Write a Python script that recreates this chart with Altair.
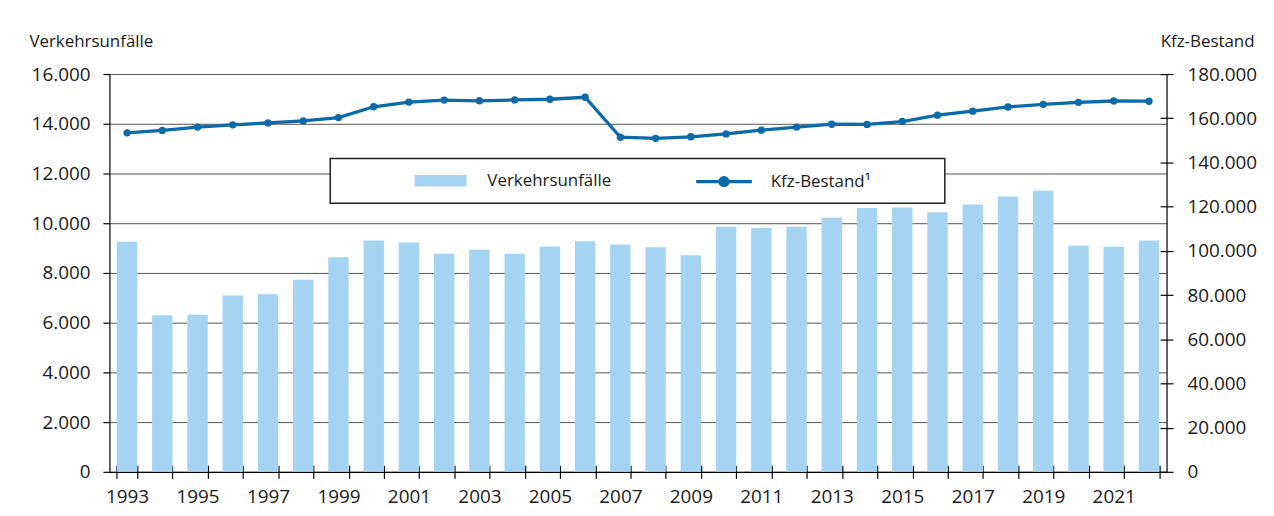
import altair as alt
import pandas as pd

# ---- data ---------------------------------------------------------------
jahre = list(range(1993, 2023))
verkehrsunfaelle = [9250, 6300, 6320, 7090, 7140, 7730, 8630, 9300, 9220, 8770,
                    8930, 8770, 9060, 9270, 9140, 9030, 8710, 9860, 9810, 9860,
                    10220, 10610, 10630, 10440, 10750, 11070, 11310, 9090, 9050, 9300]
kfz_bestand = [153400, 154500, 156000, 157000, 157900, 158800, 160300, 165200, 167300, 168200,
               167900, 168300, 168600, 169500, 151400, 150900, 151600, 152900, 154600, 156000,
               157300, 157200, 158500, 161400, 163200, 165100, 166300, 167200, 167800, 167700]
serien = ["Verkehrsunfälle", "Kfz-Bestand¹"]
links_ticks = list(range(0, 16001, 2000))
rechts_ticks = list(range(0, 180001, 20000))

df = pd.DataFrame({"Jahr": jahre, "Unfaelle": verkehrsunfaelle,
                   "Kfz": kfz_bestand, "Serie": serien[0]})

# ---- style --------------------------------------------------------------
FONT = "Open Sans, sans-serif"
TXT = "#1a1a1a"
BAR = "#a4d4f2"
LINE = "#0b6aa8"
DE = "replace(format(datum.value, ','), ',', '.')"

x_scale = alt.Scale(paddingInner=0.42, paddingOuter=0.21)

x_main_axis = alt.Axis(
    orient="bottom", labelExpr="(datum.value - 1993) % 2 == 0 ? datum.label : ''",
    labelAngle=0, tickBand="extent", tickSize=6.5, tickColor="#000", tickWidth=1.2,
    domainColor="#000", domainWidth=1.2, labelPadding=9, labelFont=FONT,
    labelFontSize=19, labelColor=TXT, grid=False, labelOverlap=False)
x_inner_axis = alt.Axis(
    orient="bottom", labels=False, domain=False, tickBand="extent", tickSize=6.5,
    tickColor="#000", tickWidth=1.2, offset=-6.5, grid=False)

sym_bar = "M-2.61,-0.585H2.61V0.585H-2.61Z"
sym_line = ("M-2.8,0H2.8M0.4,0A0.4,0.4,0,1,1,-0.4,0"
            "A0.4,0.4,0,1,1,0.4,0M20.5,0")
is_bar = "datum.value === '" + serien[0] + "'"

legend = alt.Legend(
    title=None, orient="none", legendX=222, legendY=85, direction="horizontal",
    columns=2, columnPadding=12, padding=10, fillColor="white", strokeColor="#222",
    symbolType={"expr": is_bar + " ? '" + sym_bar + "' : '" + sym_line + "'"},
    symbolSize=400, symbolStrokeWidth=3.3, symbolOffset=89,
    symbolStrokeColor={"expr": is_bar + " ? 'transparent' : '" + LINE + "'"},
    labelFont=FONT, labelFontSize=17, labelColor=TXT, labelOffset=35, zindex=1)

bars = alt.Chart(df).mark_bar().encode(
    x=alt.X("Jahr:O", scale=x_scale, title=None, axis=x_main_axis),
    y=alt.Y("Unfaelle:Q", scale=alt.Scale(domain=[0, 16000], nice=False),
            axis=alt.Axis(orient="left", values=links_ticks, labelExpr=DE, grid=True,
                          gridColor="#555", gridWidth=1, domainColor="#000",
                          domainWidth=1.2, tickColor="#000", tickWidth=1.2, tickSize=6.5,
                          labelPadding=13, labelFont=FONT, labelFontSize=19,
                          labelColor=TXT, title="Verkehrsunfälle", titleAngle=0,
                          titleX=-81, titleY=-28, titleAlign="left",
                          titleBaseline="alphabetic", titleFont=FONT, titleFontSize=17,
                          titleFontWeight="normal", titleColor=TXT)),
    color=alt.Color("Serie:N", scale=alt.Scale(domain=serien, range=[BAR, LINE]),
                    legend=legend),
)

y_kfz_scale = alt.Scale(domain=[0, 180000], nice=False)

line = alt.Chart(df).mark_line(color=LINE, strokeWidth=3.3).encode(
    x=alt.X("Jahr:O", scale=x_scale, title=None, axis=x_inner_axis),
    y=alt.Y("Kfz:Q", scale=y_kfz_scale,
            axis=alt.Axis(orient="right", values=rechts_ticks, labelExpr=DE, grid=False,
                          domainColor="#000", domainWidth=1.2, tickColor="#000",
                          tickWidth=1.2, tickSize=6.5, labelPadding=14,
                          labelFont=FONT, labelFontSize=19, labelColor=TXT,
                          title="Kfz-Bestand", titleAngle=0, titleX=88, titleY=-28,
                          titleAlign="right", titleBaseline="alphabetic",
                          titleFont=FONT, titleFontSize=17, titleFontWeight="normal",
                          titleColor=TXT)),
)

points = alt.Chart(df).mark_point(filled=True, size=55, color=LINE, opacity=1).encode(
    x=alt.X("Jahr:O", scale=x_scale, title=None, axis=x_inner_axis),
    y=alt.Y("Kfz:Q", scale=y_kfz_scale,
            axis=alt.Axis(orient="right", values=rechts_ticks, labels=False,
                          domain=False, grid=False, tickColor="#000", tickWidth=1.2,
                          tickSize=6.5, offset=-6.5, title=None)),
)

inner = alt.layer(line, points).resolve_axis(y="independent")

chart = (
    alt.layer(bars, inner)
    .resolve_scale(y="independent")
    .resolve_axis(x="independent")
    .properties(width=1063, height=400,
                autosize=alt.AutoSizeParams(type="none"),
                padding={"left": 102, "top": 65, "right": 100, "bottom": 43})
    .configure_view(strokeWidth=0)
    .configure_legend(strokeWidth=1.5)
)

chart.save("out.html", embed_options={"renderer": "svg", "actions": False})
